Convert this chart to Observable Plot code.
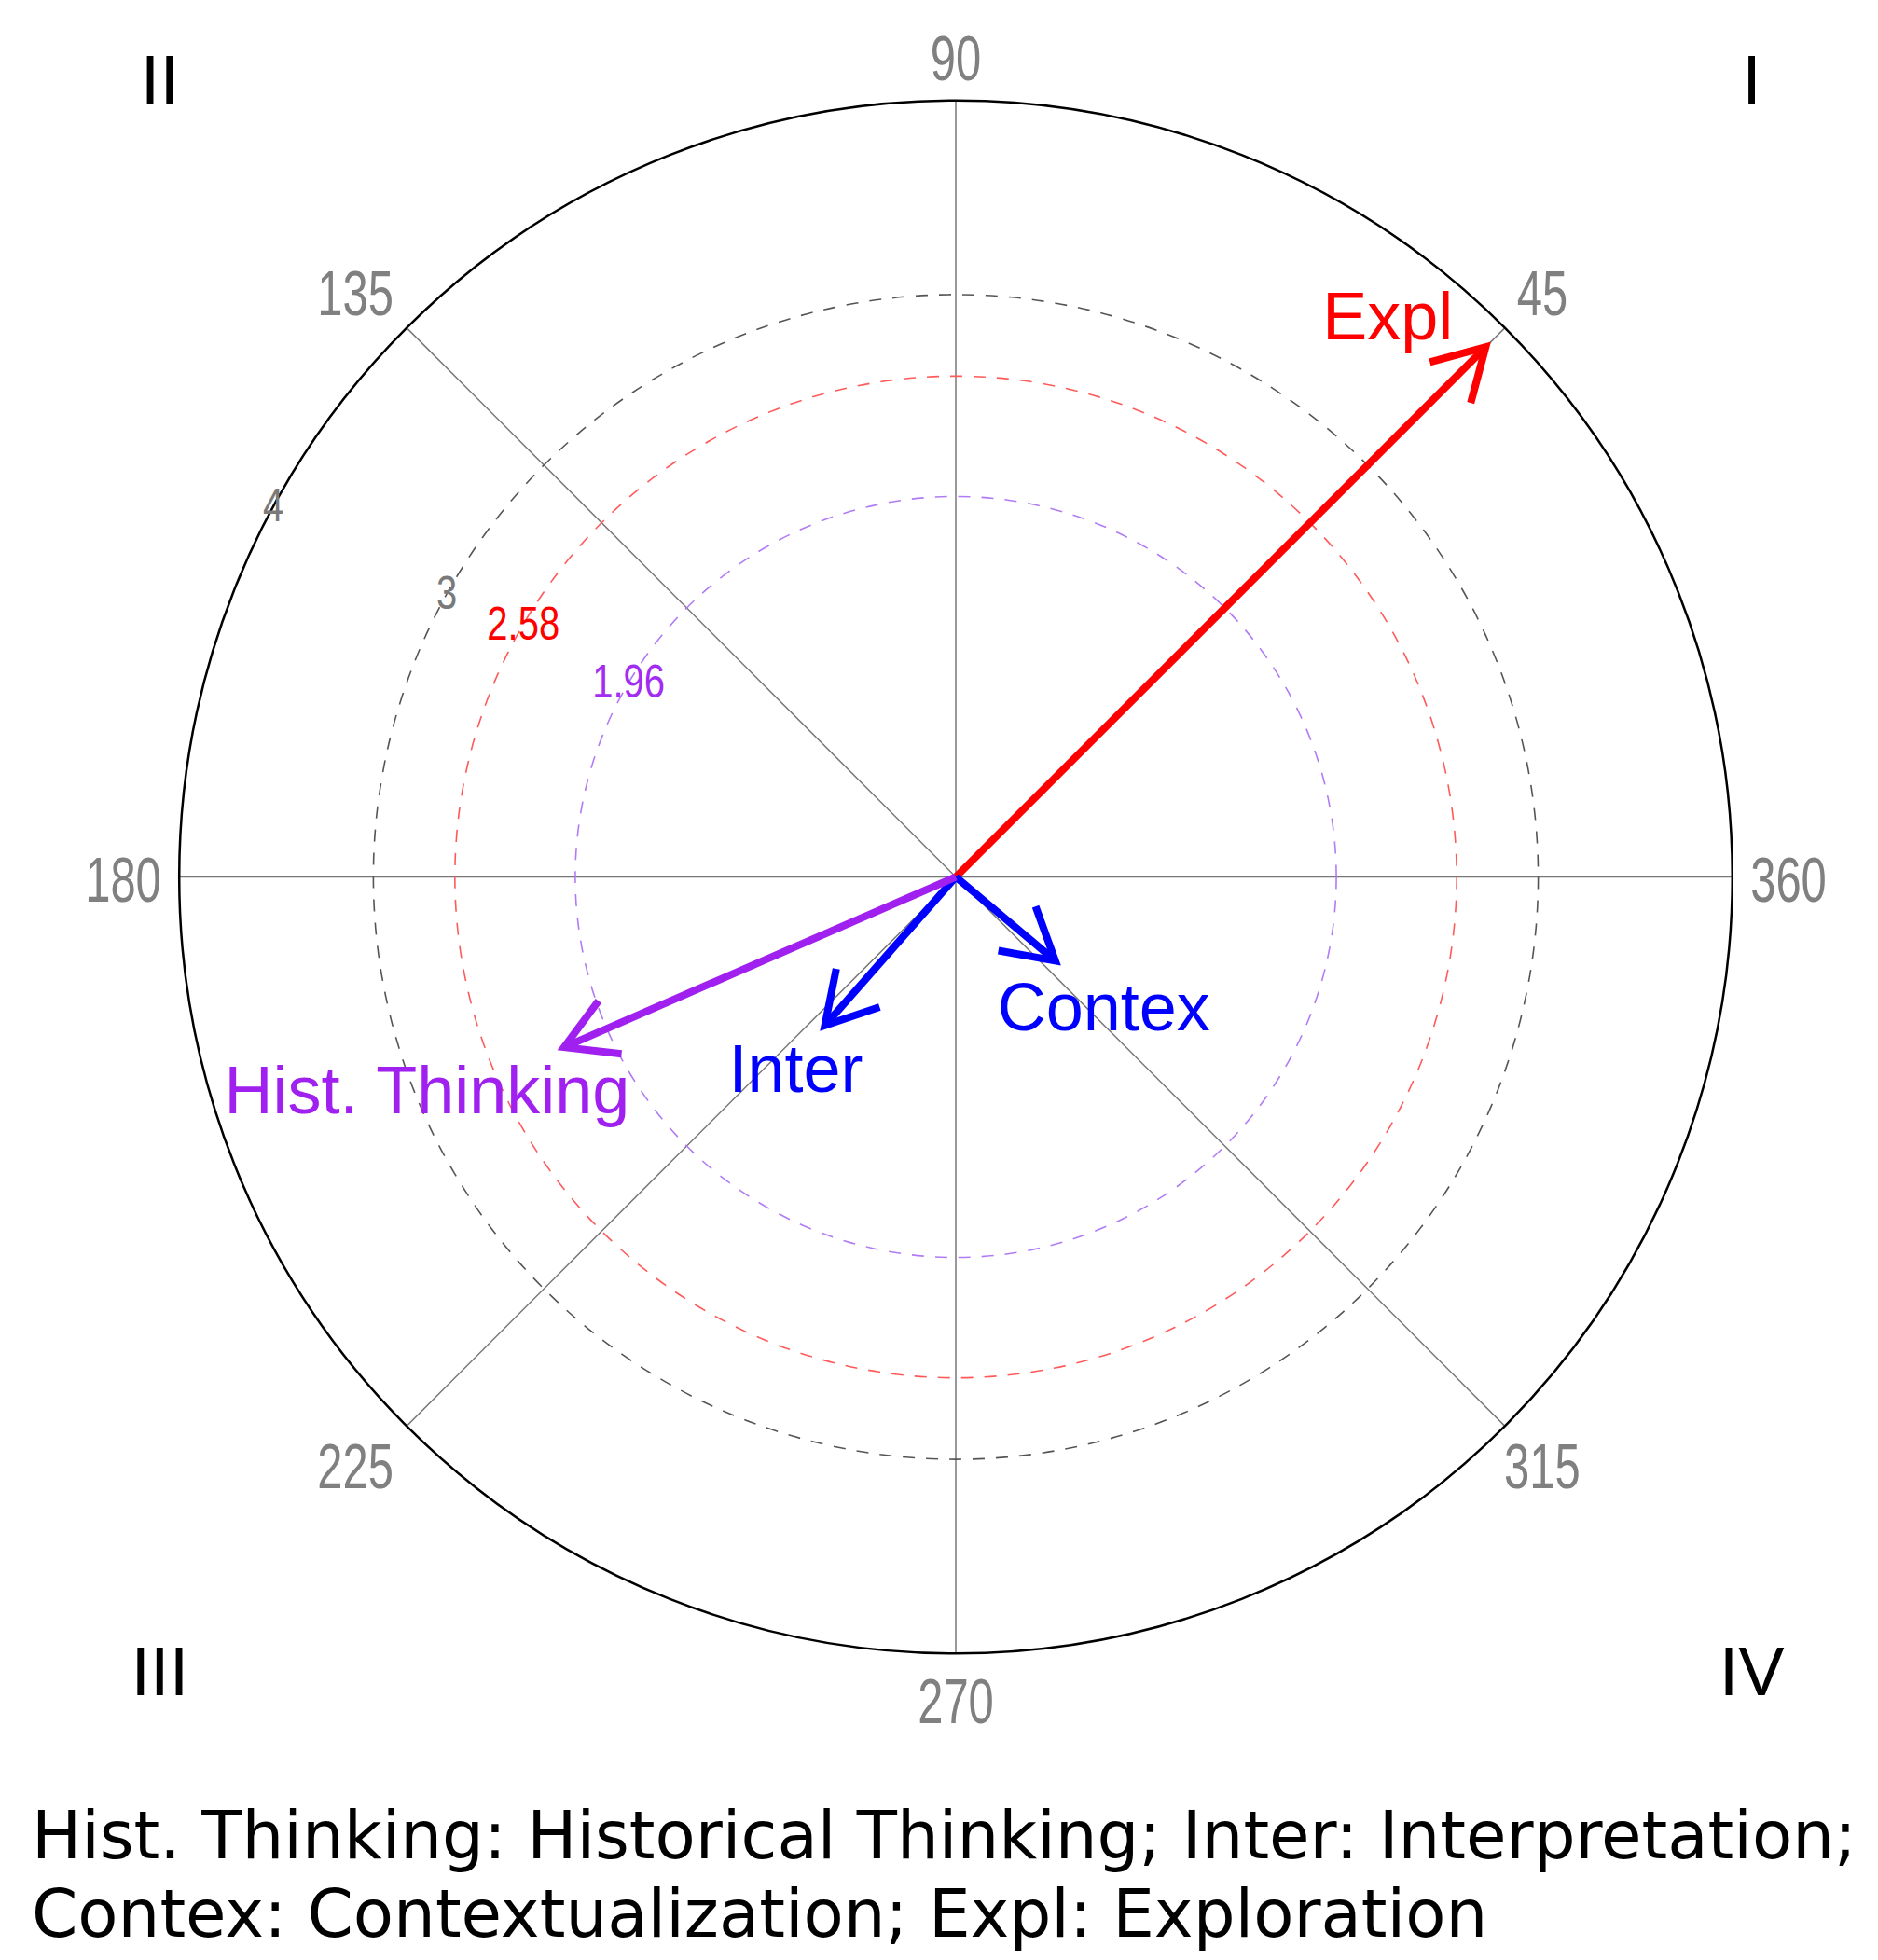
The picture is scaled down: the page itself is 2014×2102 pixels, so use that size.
<!DOCTYPE html>
<html><head><meta charset="utf-8">
<script src="https://cdn.jsdelivr.net/npm/d3@7"></script>
<script src="https://cdn.jsdelivr.net/npm/@observablehq/plot@0.6"></script>
<style>
html,body{margin:0;padding:0;background:#fff;overflow:hidden;}
#caption{font-family:"DejaVu Sans",Verdana,sans-serif;font-size:70.7px;line-height:84px;color:#000;padding:27px 0 0 34px;white-space:nowrap;}
</style></head><body>
<div id="chart"></div>
<div id="caption"></div>
<script>
// ---------- data ----------
const vectorNames = ["Expl", "Contex", "Inter", "Hist. Thinking"];
const vectorAngles = [45, 319.9, 228.6, 203.5];      // degrees
const vectorLengths = [3.86, 0.67, 1.02, 2.20];
const ringValues = [1.96, 2.58, 3, 4];
const ringLabels = ["1.96", "2.58", "3", "4"];
const ringLabelAngles = [149.3, 149.7, 150.9, 151.5];
const angleTicks = [90, 45, 135, 180, 360, 225, 315, 270];
const quadrantNames = ["I", "II", "III", "IV"];
const quadrantAngles = [45, 135, 225, 315];
const spokeAngles = [0, 45, 90, 135];
const outerRadius = 4;
const captionLines = [
  "Hist. Thinking: Historical Thinking; Inter: Interpretation;",
  "Contex: Contextualization; Expl: Exploration"
];

// ---------- styles / layout ----------
const vectorColors = ["#ff0000", "#0000ff", "#0000ff", "#a020f0"];
const labelOffsets = [[-105, -31], [52, 51.5], [-31, 48], [-147, 48]];
const tickNudgeX = {135: -15, 225: -15};
const ringStrokes = ["#b07cf5", "#ff5a5a", "#555555"];
const ringLabelColors = ["#a32cf2", "#ff0000", "#7a7a7a", "#7a7a7a"];
const W = 2014, H = 1900, cx = 1024.5, cy = 940, unit = 208.2;
const sans = "'Liberation Sans',Arial,sans-serif";
const headLenPx = 62, headHalfAngle = 30, arrowWidth = 8;

const rad = d => d * Math.PI / 180;
const pol = (r, deg) => [r * Math.cos(rad(deg)), r * Math.sin(rad(deg))];

// vectors table
const vectors = vectorNames.map((name, i) => {
  const [x, y] = pol(vectorLengths[i], vectorAngles[i]);
  return {name, angle: vectorAngles[i], length: vectorLengths[i], x, y, color: vectorColors[i], off: labelOffsets[i]};
});

const headLen = headLenPx / unit;
const heads = vectors.map(v => {
  const back = v.angle + 180;
  const [ax, ay] = pol(headLen, back + headHalfAngle);
  const [bx, by] = pol(headLen, back - headHalfAngle);
  return [
    {x: v.x + ax, y: v.y + ay},
    {x: v.x, y: v.y},
    {x: v.x + bx, y: v.y + by}
  ];
});

const tickRadius = a => (881 + 12 * Math.abs(Math.cos(rad(a)))) / unit;

const marks = [];
// spokes
marks.push(Plot.link(spokeAngles, {
  x1: a => pol(outerRadius, a)[0], y1: a => pol(outerRadius, a)[1],
  x2: a => pol(outerRadius, a + 180)[0], y2: a => pol(outerRadius, a + 180)[1],
  stroke: "#777777", strokeWidth: 1.5
}));
// dashed significance rings
ringValues.slice(0, 3).forEach((v, i) => {
  marks.push(Plot.dot([v], {x: () => 0, y: () => 0, r: v * unit, fill: "none",
    stroke: ringStrokes[i], strokeWidth: 1.6, strokeDasharray: "13,12"}));
});
// outer circle
marks.push(Plot.dot([outerRadius], {x: () => 0, y: () => 0, r: outerRadius * unit, fill: "none",
  stroke: "#000", strokeWidth: 2.5}));
// ring labels
ringValues.forEach((v, i) => {
  marks.push(Plot.text([v], {x: d => pol(d, ringLabelAngles[i])[0], y: d => pol(d, ringLabelAngles[i])[1],
    text: () => ringLabels[i], fill: ringLabelColors[i], fontSize: 50, fontFamily: sans,
    textAnchor: "middle", lineAnchor: "middle", className: "narrow-ring"}));
});
// angle tick labels
angleTicks.forEach(a => {
  marks.push(Plot.text([a], {
    x: d => pol(tickRadius(d), d)[0], y: d => pol(tickRadius(d), d)[1],
    dx: tickNudgeX[a] || 0, dy: 4,
    text: d => String(d), fill: "#808080", fontSize: 69, fontFamily: sans,
    textAnchor: "middle", lineAnchor: "middle", className: "narrow-tick"
  }));
});
// quadrant numerals
marks.push(Plot.text(quadrantAngles, {
  x: a => pol(4.10 * Math.SQRT2, a)[0], y: a => pol(4.10 * Math.SQRT2, a)[1],
  text: (a, i) => quadrantNames[i], fill: "#000", fontSize: 74,
  fontFamily: sans, textAnchor: "middle", lineAnchor: "middle"
}));
// arrows
vectors.forEach((v, i) => {
  marks.push(Plot.link([v], {x1: () => 0, y1: () => 0, x2: "x", y2: "y",
    stroke: v.color, strokeWidth: arrowWidth, strokeLinecap: "butt"}));
  marks.push(Plot.line(heads[i], {x: "x", y: "y", stroke: v.color, strokeWidth: arrowWidth,
    strokeLinejoin: "miter", strokeLinecap: "butt", strokeMiterlimit: 10}));
  marks.push(Plot.text([v], {x: "x", y: "y", dx: v.off[0], dy: v.off[1], text: "name",
    fill: v.color, fontSize: 72, fontFamily: sans,
    textAnchor: "middle", lineAnchor: "middle"}));
});

const chart = Plot.plot({
  width: W, height: H, margin: 0,
  x: {domain: [(0 - cx) / unit, (W - cx) / unit], axis: null},
  y: {domain: [(cy - H) / unit, cy / unit], axis: null},
  style: {background: "#fff", fontFamily: sans, overflow: "visible"},
  marks
});

// condense the numeric labels horizontally (narrow typeface in the original)
function condense(selector, k) {
  chart.querySelectorAll(selector + " text").forEach(t => {
    const tr = t.getAttribute("transform") || "";
    t.setAttribute("transform", (tr + ` scale(${k},1)`).trim());
  });
}
condense(".narrow-tick", 0.71);
condense(".narrow-ring", 0.8);

document.getElementById("chart").append(chart);
document.getElementById("caption").innerHTML = captionLines.map(s => `<div>${s}</div>`).join("");
</script>
</body></html>
